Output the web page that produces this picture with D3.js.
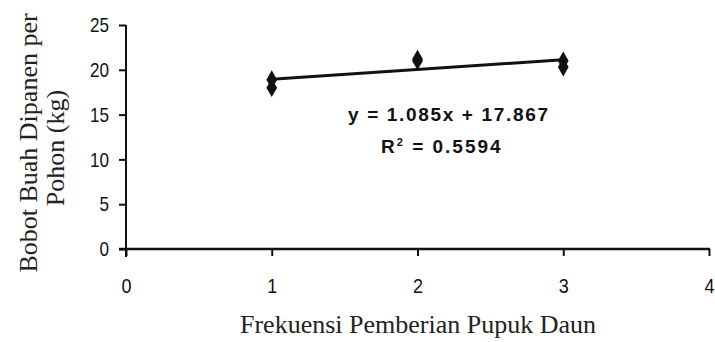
<!DOCTYPE html>
<html><head><meta charset="utf-8">
<script src="https://cdn.jsdelivr.net/npm/d3@7"></script>
<style>
html,body{margin:0;padding:0;background:#fff;}
svg{display:block;}
</style></head>
<body>
<svg id="chart" width="715" height="342"></svg>
<script>
// ---- data ----
const xTicks = [0, 1, 2, 3, 4];
const yTicks = [0, 5, 10, 15, 20, 25];
const pointX = [1, 1, 2, 2, 3, 3];
const pointY = [18.0, 18.9, 21.0, 21.2, 20.3, 21.0];
const slope = 1.085;
const intercept = 17.867;
const lineX = [1, 3];
const eqText = "y = 1.085x + 17.867";
const r2Value = "0.5594";
const yLabelLines = ["Bobot Buah Dipanen per", "Pohon (kg)"];
const xLabel = "Frekuensi Pemberian Pupuk Daun";

const svg = d3.select("#chart");
const x = d3.scaleLinear().domain([0, 4]).range([126, 709]);
const y = d3.scaleLinear().domain([0, 25]).range([249, 25]);

const tickFont = "'Liberation Sans', Arial, sans-serif";

// axes lines
svg.append("line").attr("x1", x(0)).attr("x2", x(0)).attr("y1", y(25)).attr("y2", y(0) + 8)
  .attr("stroke", "#111").attr("stroke-width", 2);
svg.append("line").attr("x1", x(0) - 7).attr("x2", x(4) + 1).attr("y1", y(0)).attr("y2", y(0))
  .attr("stroke", "#111").attr("stroke-width", 2.5);

// y axis
const ya = svg.append("g").attr("transform", `translate(${x(0)},0)`)
  .call(d3.axisLeft(y).tickValues(yTicks).tickFormat(d3.format("d")).tickSize(7).tickPadding(10).tickSizeOuter(0));
ya.select(".domain").remove();
ya.selectAll("line").attr("stroke", "#111").attr("stroke-width", 2);
ya.selectAll("text").attr("font-family", tickFont).attr("font-size", 21).attr("fill", "#111")
  .attr("textLength", d => String(d).length * 9.5).attr("lengthAdjust", "spacingAndGlyphs");

// x axis
const xa = svg.append("g").attr("transform", `translate(0,${y(0)})`)
  .call(d3.axisBottom(x).tickValues(xTicks).tickFormat(d3.format("d")).tickSize(7).tickPadding(22).tickSizeOuter(0));
xa.select(".domain").remove();
xa.selectAll("line").attr("stroke", "#111").attr("stroke-width", 2);
xa.selectAll("text").attr("font-family", tickFont).attr("font-size", 21).attr("fill", "#111")
  .attr("textLength", 10).attr("lengthAdjust", "spacingAndGlyphs");

// trend line
svg.append("line")
  .attr("x1", x(lineX[0])).attr("y1", y(slope * lineX[0] + intercept))
  .attr("x2", x(lineX[1])).attr("y2", y(slope * lineX[1] + intercept))
  .attr("stroke", "#111").attr("stroke-width", 3);

// points
const sym = d3.symbol().type(d3.symbolDiamond).size(100);
svg.append("g").selectAll("path").data(pointX.map((d, i) => [d, pointY[i]])).join("path")
  .attr("d", sym)
  .attr("transform", d => `translate(${x(d[0])},${y(d[1])})`)
  .attr("fill", "#111");

// equation
svg.append("text").attr("x", 348).attr("y", 121).attr("font-family", tickFont)
  .attr("font-weight", "bold").attr("font-size", 19).attr("fill", "#111")
  .attr("textLength", 200).text(eqText);
const r2 = svg.append("text").attr("x", 381).attr("y", 153).attr("font-family", tickFont)
  .attr("font-weight", "bold").attr("font-size", 19).attr("fill", "#111")
  .attr("letter-spacing", 2);
r2.append("tspan").text("R");
r2.append("tspan").attr("font-size", 11).attr("dy", -7).text("2");
r2.append("tspan").attr("dy", 7).text(" = " + r2Value);

// axis titles
const serif = "'Liberation Serif', 'Times New Roman', serif";
svg.append("text").attr("transform", "translate(37,143) rotate(-90)")
  .attr("text-anchor", "middle").attr("font-family", serif).attr("font-size", 26).attr("fill", "#222")
  .text(yLabelLines[0]);
svg.append("text").attr("transform", "translate(64,148) rotate(-90)")
  .attr("text-anchor", "middle").attr("font-family", serif).attr("font-size", 26).attr("fill", "#222")
  .text(yLabelLines[1]);
svg.append("text").attr("x", 418).attr("y", 333)
  .attr("text-anchor", "middle").attr("font-family", serif).attr("font-size", 26).attr("fill", "#222")
  .text(xLabel);
</script>
</body></html>
